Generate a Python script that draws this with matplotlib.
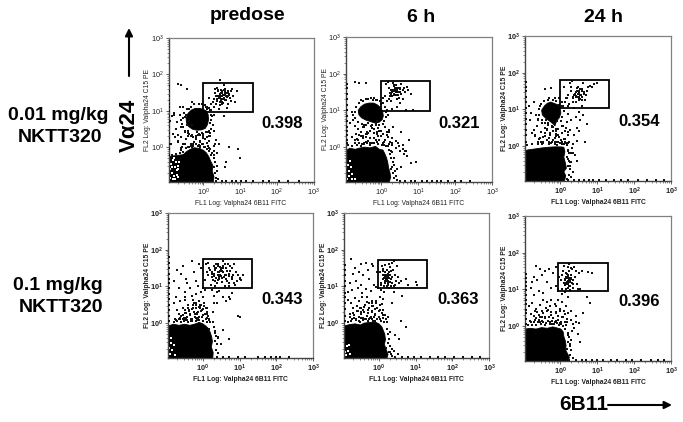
import numpy as np
import matplotlib
matplotlib.use("Agg")
import matplotlib.pyplot as plt
from matplotlib.ticker import LogLocator, NullFormatter

plt.rcParams['font.family'] = ['Liberation Sans', 'DejaVu Sans']
plt.rcParams['mathtext.fontset'] = 'custom'
plt.rcParams['mathtext.rm'] = 'Liberation Sans'
plt.rcParams['mathtext.bf'] = 'Liberation Sans:bold'

decade_ticks = [0, 1, 2, 3]
tick_labels = ['0', '1', '2', '3']
xlabel_text = 'FL1 Log: Valpha24 6B11 FITC'
ylabel_text = 'FL2 Log: Valpha24 C15 PE'
titles = ['predose', '6 h', '24 h']
percent = ['0.398', '0.321', '0.354', '0.343', '0.363', '0.396']

# --- panel 1 ---
p1_gate = [[0, 1.35, 1.35, 0, 0], [0.97, 0.97, 1.77, 1.77, 0.97]]
p1_main_x = [-.95, -.95, -.7, -.55, -.45, -.35, -.25, -.1, 0, .08, .15, .2, .26, .24, .29, .27]
p1_main_y = [-.95, -.25, -.22, -.2, -.11, -.05, -.01, -.03, -.08, -.15, -.26, -.38, -.5, -.65, -.8, -.95]
p1_blob_x = [-.12, -.02, .08, .13, .14, .11, .05, -.05, -.18, -.3, -.4, -.46, -.47, -.42, -.33, -.22]
p1_blob_y = [1.07, 1.05, 1.0, .9, .76, .62, .52, .48, .47, .5, .57, .67, .8, .93, 1.02, 1.07]
p1_pts_x = [.55, .48, .62, .51, .44, .58, .66, .40, .35, .70, .30, .75, .25, .52, .60, .46, .38, .68, .55, .42, .80, .92, .85, .20, .15, .33, .57, .63, .49, .72, .28, .44, .54, .36, .64, .77, .10, .18, .59, .47, .53, .41, .67, .31, .50, .61,
            -.7, -.6, -.45, -.3, -.55, -.8, -.65, -.85, -.5, -.72, -.38, -.6, -.75, -.82, -.42, -.28, -.2, -.1, 0, .1, -.05, -.15, .02, -.25, -.35, -.48, -.12, .08, .2, .28, .35, .32, .18, -.68, -.58, -.88, -.62, -.4, -.9, -.78, -.7, -.3, -.5, -.18, .22, .3, .38, .42, .55, .62, .7, 1.0, .45, .6, .95, -.65, -.38, -.8,
            -.2, -.45, .12, .16, -.55, -.33, .14, .18, .28, .1, .3]
p1_pts_y = [1.45, 1.5, 1.4, 1.55, 1.38, 1.3, 1.52, 1.58, 1.42, 1.47, 1.33, 1.55, 1.25, 1.25, 1.6, 1.15, 1.62, 1.2, 1.36, 1.05, 1.4, 1.55, 1.25, 1.18, 1.35, 1.5, 1.7, 1.08, 1.32, 1.35, 1.1, 1.47, 1.44, 1.28, 1.48, 1.6, 1.05, 1.02, 1.52, 1.56, 1.22, 1.4, 1.42, 1.6, 1.34, 1.5,
            1.75, 1.72, 1.6, 1.25, 1.1, .95, .88, .85, .82, .7, .72, .55, .5, .38, .45, .28, .3, .18, .25, .12, .08, .05, .02, .15, .1, .22, .38, 1.1, 1.02, .9, .2, .08, -.05, .18, .02, .1, -.02, .02, .72, .28, .35, .6, .42, .42, .5, .45, -.15, .1, .85, -.4, 0, -.3, 1.85, -.55, -.05, 1.1, 1.05, .9,
            .22, .62, .05, .18, .08, .3, .3, .4, -.1, -.05, .05]
p1_more_x = [.2, .22, .25, .18, .15, .2, .1, .05, -.05, -.12, -.25, -.35, -.45, -.52, -.55, -.58, -.55, -.5, -.42, -.3, -.2, -.1, 0, .08, .15, .24, .18, -.6, -.48, -.38, -.02, .06,
             -.85, -.75, -.65, -.55, -.48, -.42, -.35, -.28, -.2, -.12, -.05, .02, .1, .16, .22, .28, .33, .3, .36, .33, .38, .34, .4, -.6, -.3, -.1, .05, .14, .24, .3,
             .5, .56, .46, .6, .52, .43, .65, .54, .48, .58, .38, .7, .62, .34, .44, .56, .5, .66, .4, .74,
             -.7, -.6, -.5, -.42, -.2, -.15, -.08, 0, .1, -.28, -.18, -.05, .05, .12, -.32, .18, -.02, -.1]
p1_more_y = [.9, .75, .62, 1.02, 1.08, .5, 1.12, 1.15, 1.18, 1.2, 1.2, 1.12, 1.05, .95, .8, .65, .55, .45, .4, .35, .32, .35, .38, .42, .44, .85, .68, .75, .88, .38, .3, 1.1,
             -.2, -.18, -.15, -.12, -.02, .02, .05, .08, .1, .06, .08, .02, -.05, -.1, -.2, -.3, -.4, -.55, -.5, -.7, -.65, -.85, -.88, -.08, 0, .02, 0, -.02, -.15, -.2,
             1.4, 1.44, 1.45, 1.46, 1.5, 1.35, 1.38, 1.33, 1.3, 1.55, 1.34, 1.44, 1.3, 1.2, 1.25, 1.58, 1.2, 1.55, 1.55, 1.28,
             .15, .28, .08, .3, .25, .35, .15, .32, .28, .05, .42, .4, .22, .42, .35, .3, .1, .05]
p1_white_x = [-.9, -.85, -.8, -.78, -.72, -.68, -.88, -.82, -.75, -.7, -.9, -.84, -.76, -.66, -.8, -.72, -.86, -.68]
p1_white_y = [-.85, -.7, -.78, -.55, -.62, -.82, -.45, -.35, -.4, -.5, -.6, -.88, -.88, -.4, -.3, -.75, -.55, -.58]
p1_left_y = [-.2, -.05, .1, .25, .4, .55, .7, .85, 1.0, 1.1, 1.2, 1.3, 1.42, 1.55, 1.68]
p1_bottom_x = [.35, .5, .62, .78, .9, 1.02, 1.15, 1.35, 1.62, 1.8, 2.05, 2.3, 2.6]

# --- panel 2 ---
p2_gate = [[0, 1.33, 1.33, 0, 0], [.98, .98, 1.8, 1.8, .98]]
p2_main_x = [-.95, -.95, -.85, -.7, -.6, -.45, -.3, -.15, -.05, .05, .1, .15, .18, .2, .24, .26, .22]
p2_main_y = [-.95, -.1, -.03, -.06, -.03, 0, -.02, .02, -.06, -.08, -.18, -.3, -.42, -.55, -.7, -.82, -.95]
p2_blob_x = [-.33, -.2, -.1, -.02, .04, .06, .03, -.05, -.18, -.3, -.42, -.53, -.6, -.62, -.55, -.45]
p2_blob_y = [1.2, 1.2, 1.15, 1.08, .98, .85, .75, .68, .66, .7, .74, .8, .88, 1.0, 1.1, 1.17]
p2_pts_x = [.38, .45, .3, .52, .4, .25, .6, .35, .48, .2, .55, .65, .15, .7, .28, .42, .33, .5, .1, .58, .72, .8, .38, .22, .46, .12, .3, .62, .36, .05, .68, .18, .25, .44, .54, .4, .85,
            -.7, -.6, -.4, -.28, -.78, -.85, -.72, -.62, -.55, -.48, -.38, -.3, -.2, -.12, 0, .1, .2, -.8, -.65, -.5, -.4, -.3, -.18, -.05, .08, .18, .3, -.55, -.45, -.35, -.25, -.1, .05, .12, .3, .4, .5, .62, .7, .82, .95, .65, .45, .75, .6, .35, .55, .42, .28, -.75, -.6, -.15, -.68, .22, -.2, -.35, -.5, -.62, -.05, .15, .32, .48, .58, .3, .4, .68, .55, -.3, -.1, .05, -.25, -.42, .02, -.45, -.15]
p2_pts_y = [1.53, 1.6, 1.5, 1.62, 1.42, 1.38, 1.55, 1.7, 1.35, 1.6, 1.45, 1.5, 1.25, 1.65, 1.25, 1.1, 1.75, 1.2, 1.4, 1.3, 1.55, 1.45, 1.58, 1.3, 1.5, 1.72, 1.05, 1.6, 1.45, 1.35, 1.0, 1.78, 1.48, 1.3, 1.72, 1.52, 1.0,
            1.78, 1.75, 1.75, 1.35, .95, .65, .58, .5, .42, .55, .35, .45, .5, .4, .3, .55, .42, .28, .22, .25, .15, .1, .12, .2, .15, .28, .25, .02, .08, .65, .6, .72, .05, .02, .1, -.02, -.1, -.2, -.25, -.42, -.4, -.1, .1, .2, .05, -.3, -.55, -.6, -.6, .75, .33, .62, .35, .48, .25, .38, .3, .2, .45, .32, .55, .02, -.05, .08, .18, -.1, .4, .25, .35, .1, .12, .28, .05, .6, 1.28]
p2_more_x = [.1, .14, .12, .08, .04, -.02, -.1, -.22, -.35, -.48, -.6, -.68, -.72, -.7, -.62, -.52, -.4, -.28, -.15, -.05, .05, .15, .18, -.55, -.42, -.18, -.75, 0,
             -.9, -.78, -.65, -.52, -.38, -.22, -.08, .02, .12, .2, .25, .28, .32, .3, .35, .32, .38, .34, .4, .42, -.7, -.45, -.3, -.12, .08, .18, .26, .3,
             .36, .4, .32, .44, .28, .38, .5, .34, .42, .26, .46, .3, .36, .52, .24, .4,
             -.7, -.55, -.42, -.3, -.2, -.08, .05, .15, -.6, -.35, -.15, .1, .25, -.45, -.25, 0, .2, .3, -.08, -.38]
p2_more_y = [1.1, .95, .82, .7, 1.2, 1.25, 1.28, 1.28, 1.3, 1.25, 1.2, 1.1, .95, .8, .68, .62, .6, .58, .6, .6, .62, 1.02, .88, 1.28, 1.32, 1.33, .88, 1.18,
             .05, .04, .06, .08, .1, .12, .08, .05, .02, -.08, -.18, -.3, -.4, -.55, -.5, -.7, -.65, -.85, -.78, -.9, .1, .12, .05, .14, .06, .02, -.1, -.12,
             1.52, 1.5, 1.55, 1.56, 1.45, 1.6, 1.5, 1.42, 1.62, 1.55, 1.42, 1.4, 1.66, 1.58, 1.48, 1.7,
             .2, .3, .35, .25, .38, .3, .35, .42, .12, .18, .2, .2, .15, .55, .52, .45, .08, .05, .52, .4]
p2_white_x = [-.92, -.86, -.8, -.88, -.78, -.9, -.82, -.72, -.84]
p2_white_y = [-.88, -.8, -.86, -.65, -.72, -.5, -.55, -.88, -.38]
p2_left_y = [.1, .2, .33, .45, .55, .7, .85, 1.0, 1.15, 1.3, 1.45, 1.6, 1.72]
p2_bottom_x = [.5, .65, .8, .92, 1.1, 1.25, 1.38, 1.5, 1.62, 1.8, 2.0, 2.15, 2.4]

# --- panel 3 ---
p3_gate = [[0, 1.33, 1.33, 0, 0], [1.03, 1.03, 1.8, 1.8, 1.03]]
p3_main_x = [-.95, -.95, -.85, -.7, -.5, -.3, -.15, 0, .1, .13, .1, .14, .17, .1, .15, .12]
p3_main_y = [-.95, -.12, -.1, -.08, -.05, -.03, -.02, -.02, -.03, -.15, -.3, -.45, -.6, -.7, -.8, -.95]
p3_blob_x = [-.25, -.15, -.05, 0, .02, -.02, -.08, -.12, -.14, -.18, -.28, -.38, -.48, -.5, -.42, -.34]
p3_blob_y = [1.2, 1.16, 1.12, 1.02, .9, .78, .7, .62, .55, .6, .68, .75, .85, .98, 1.1, 1.17]
p3_pts_x = [.5, .45, .55, .4, .6, .35, .65, .48, .52, .3, .7, .25, .42, .58, .75, .2, .15, .8, .38, .62, .85, .1, .05, .28, .33, .68, .44, .54, .92, 1.0, .12, .22, .46, .5, .72, .18, .3, .36,
            -.25, -.4, -.55, -.72, -.85, -.78, -.65, -.6, -.5, -.42, -.35, -.28, -.2, -.1, -.02, .08, .18, .3, .42, .55, .62, .72, .45, .5, .38, .28, .2, .12, -.75, -.68, -.58, -.45, -.35, -.25, -.15, -.05, .1, .25, .35, .45, .68, -.62, -.52, -.42, -.3, -.2, -.1, .05, .15, .22, .3, .18, .25, .32, .4, .28, .35, .45, -.48, -.32, -.18, -.08, .02, -.38, -.7, -.82, .2, .52, .58]
p3_pts_y = [1.43, 1.5, 1.38, 1.42, 1.55, 1.3, 1.48, 1.62, 1.25, 1.5, 1.4, 1.15, 1.2, 1.1, 1.6, 1.4, 1.32, 1.65, 1.05, 1.72, 1.6, 1.6, 1.08, 1.72, 1.78, 1.25, 1.35, 1.28, 1.7, 1.72, 1.2, 1.08, 1.58, 1.35, 1.5, 1.32, 1.62, 1.2,
            1.57, 1.55, 1.1, 1.2, 1.1, .9, .85, .75, .62, .5, .45, .35, .4, .28, .25, .55, .65, .72, .78, .72, .85, .6, .5, .4, .3, .45, .3, .2, .35, .28, .2, .1, .18, .08, .05, .12, .2, .1, .05, .15, .1, .55, .38, .28, .22, .18, .32, .05, .08, -.1, -.2, -.3, -.4, -.05, -.25, -.55, -.7, -.4, .05, .62, .52, .68, .18, .7, .45, .7, .88, .92, 1.25]
p3_more_x = [.08, .1, .06, .02, -.02, -.1, -.2, -.32, -.44, -.52, -.58, -.58, -.5, -.42, -.32, -.22, -.12, -.06, .04, .05, -.02, -.6, -.3, -.15,
             -.9, -.75, -.6, -.45, -.3, -.15, 0, .1, .18, .2, .24, .2, .26, .22, .28, .24, .3, .18, .22, .35, .05, -.22, -.52, -.08, .14, .3,
             .48, .52, .44, .56, .5, .42, .6, .46, .54, .38, .58, .5, .64, .34, .47, .53,
             -.68, -.55, -.42, -.3, -.15, -.05, .05, -.35, -.22, -.12, .02, .12, -.6, -.45, -.28, -.08, .16, .22]
p3_more_y = [1.1, .95, .8, .68, 1.12, 1.22, 1.25, 1.27, 1.22, 1.15, 1.02, .85, .72, .62, .58, .52, .48, .48, .55, 1.2, 1.3, .7, 1.32, 1.3,
             .04, .06, .05, .08, .06, .1, .08, .06, .02, -.12, -.2, -.35, -.42, -.55, -.62, -.78, -.85, -.9, .08, -.2, .12, .12, .1, .02, .12, -.42,
             1.42, 1.46, 1.47, 1.4, 1.5, 1.36, 1.5, 1.35, 1.55, 1.4, 1.33, 1.32, 1.42, 1.35, 1.58, 1.28,
             .3, .22, .35, .12, .22, .3, .35, .48, .55, .42, .18, .42, .1, .25, .3, .12, .5, .38]
p3_left_y = [.1, .3, .45, .6, .75, .9, 1.05, 1.2, 1.35, 1.5, 1.62, 1.75]
p3_bottom_x = [.22, .38, .52, .65, .78, .9, 1.05, 1.25, 1.45, 1.65, 1.85, 2.1, 2.35, 2.6, 2.8]

# --- panel 4 ---
p4_gate = [[0, 1.34, 1.34, 0, 0], [.95, .95, 1.74, 1.74, .95]]
p4_main_x = [-.95, -.95, -.8, -.65, -.5, -.35, -.2, -.1, 0, .08, .15, .2, .24, .26, .23, .28, .27]
p4_main_y = [-.95, -.08, -.03, -.06, -.03, -.06, -.02, .02, -.02, -.08, -.15, -.25, -.38, -.5, -.65, -.8, -.95]
p4_pts_x = [.2, .3, .4, .5, .6, .7, .8, .9, 1.0, 1.1, .15, .25, .35, .45, .55, .65, .75, .85, .95, 1.05, .1, .22, .32, .42, .52, .62, .72, .82, .92, 1.02, .08, .18, .28, .38, .48, .58, .68, .78, .88, .05, .14, .24, .34, .44, .54, .64, .74, .84, .36, .46, .56, .3, .4, .5, .6, .42, .52, .33, .47, .62, .27, .7, .8, .55,
            -.7, -.55, -.3, -.1, -.8, -.6, -.45, -.25, -.05, -.65, -.42, -.18, -.72, -.5, -.35, -.12, -.78, -.62, -.48, -.3, -.2, -.05, .05, -.7, -.55, -.4, -.25, -.1, 0, -.6, -.5, -.38, -.28, -.18, -.08, .02, -.55, -.45, -.35, -.22, -.12, -.02, .08, -.42, -.3, -.2, -.1, 0, .1, -.72, -.62, -.52, -.32, -.15, .1, .18, .28, .38, .3, .45, .55, .62, .75, .8, .95, 1.0, .18, .32, .55, .42, .7, .5, .38, .25, .3, .7, -.38, -.08, .12, -.28, -.16, -.5, -.66, -.06, -.24]
p4_pts_y = [1.45, 1.55, 1.3, 1.5, 1.6, 1.35, 1.25, 1.4, 1.2, 1.3, 1.65, 1.25, 1.6, 1.2, 1.38, 1.15, 1.42, 1.08, 1.3, 1.18, 1.4, 1.05, 1.45, 1.55, 1.12, 1.5, 1.1, 1.32, 1.15, 1.22, 1.6, 1.5, 1.35, 1.1, 1.42, 1.25, 1.62, 1.5, 1.05, 1.18, 1.3, 1.4, 1.02, 1.4, 1.68, 1.32, 1.55, 1.6, 1.22, 1.32, 1.5, 1.28, 1.4, 1.28, 1.02, 1.18, 1.42, 1.5, 1.52, 1.2, 1.18, 1.02, 1.2, 1.7,
            1.45, 1.55, 1.7, 1.62, 1.15, 1.35, 1.2, 1.4, 1.5, .95, 1.08, 1.15, .7, .85, .95, 1.0, .55, .6, .7, .75, .8, .85, .9, .35, .42, .5, .55, .6, .7, .2, .28, .35, .42, .5, .4, .55, .1, .15, .22, .25, .3, .35, .4, .08, .12, .15, .18, .22, .28, .08, .1, .05, .05, .08, .15, .08, .3, .55, .55, .88, .72, .6, .65, .82, .2, .18, -.15, -.28, -.18, -.38, -.42, -.58, .85, .9, .75, .7, .32, .45, .25, .62, .28, .62, .12, .5, .3]
p4_more_x = [-.8, -.7, -.6, -.5, -.4, -.3, -.2, -.1, 0, .1, .2, -.75, -.62, -.52, -.42, -.32, -.22, -.12, -.02, .08, .18, .28, -.65, -.55, -.45, -.35, -.25, -.15, -.05, .05, .15, -.5, -.4, -.3, -.2, -.1, 0, .1, -.28, -.18, -.08, .02, .12, .3, .34, .36, .32, .38, .35, .42, .4,
             .4, .5, .3, .6, .45, .55, .35, .65, .25, .7, .42, .52, .62, .32]
p4_more_y = [.02, .05, .03, .08, .04, .06, .05, .08, .06, .04, .03, .12, .15, .14, .18, .12, .16, .14, .18, .12, .1, .02, .25, .22, .28, .25, .3, .26, .32, .24, .2, .35, .4, .38, .42, .45, .38, .3, .5, .55, .5, .48, .42, -.1, -.22, -.35, -.48, -.58, -.72, -.82, -.4,
             1.4, 1.45, 1.35, 1.3, 1.25, 1.55, 1.5, 1.42, 1.35, 1.28, 1.6, 1.22, 1.5, 1.15]
p4_white_x = [-.9, -.84, -.76, -.88, -.8, -.92, -.86]
p4_white_y = [-.85, -.72, -.88, -.55, -.6, -.68, -.4]
p4_left_y = [.05, .2, .35, .5, .65, .8, .95, 1.1, 1.2, 1.35, 1.5, 1.65, 1.8]
p4_bottom_x = [.38, .55, .7, .95, 1.15, 1.5, 1.7, 1.85, 1.98, 2.1, 2.35]

# --- panel 5 ---
p5_gate = [[-.03, 1.32, 1.32, -.03, -.03], [.95, .95, 1.72, 1.72, .95]]
p5_main_x = [-.95, -.95, -.8, -.65, -.5, -.4, -.25, -.1, 0, .08, .12, .16, .18, .15, .2, .25, .22]
p5_main_y = [-.95, -.08, -.04, -.02, -.05, 0, .02, .03, -.02, -.1, -.2, -.3, -.45, -.58, -.72, -.85, -.95]
p5_pts_x = [.2, .25, .15, .3, .1, .35, .22, .05, .4, .18, .28, .12, .32, .45, .08, .24, .36, .16, .5, .02, .42, .26, .2, .14, .34, .55, .3, .38, .48, .06, .18, .22, .28, .6, .8, 1.0, 1.05, .75, .52, .44, .35, .1,
            -.75, -.65, -.5, -.35, -.2, -.7, -.55, -.42, -.3, -.15, -.05, -.8, -.62, -.48, -.28, -.12, -.85, -.72, -.58, -.45, -.35, -.22, -.08, .05, .15, -.85, -.75, -.65, -.55, -.45, -.32, -.2, -.08, .02, .12, -.7, -.6, -.48, -.38, -.28, -.18, -.05, .08, -.78, -.68, -.58, -.5, -.42, -.3, -.2, -.1, .02, .12, .25, .35, .3, .45, .55, .62, .25, .2, .3, .42, .52, .35, .6, .75, .22, .35, .4, .28, -.4, -.25, -.12, .02, -.62, -.5, -.35, -.15, -.72, -.55, -.42, -.28, -.1]
p5_pts_y = [1.25, 1.15, 1.32, 1.3, 1.2, 1.1, 1.45, 1.05, 1.0, 1.58, 1.6, 1.48, 1.42, 1.3, 1.55, 1.05, 1.25, 1.15, 1.55, 1.38, 1.68, 1.35, 1.2, 1.02, 1.0, 1.1, 1.52, 1.45, 1.15, 1.1, 1.28, .98, 1.22, 1.15, 1.05, 1.12, 1.05, 1.2, 1.25, 1.05, 1.65, 1.42,
            1.75, 1.5, 1.6, 1.65, 1.62, 1.35, 1.4, 1.3, 1.45, 1.55, 1.4, 1.1, 1.15, 1.05, 1.2, 1.05, .85, .9, .95, .82, .92, .88, .98, .9, .85, .62, .55, .68, .6, .7, .72, .6, .55, .7, .65, .42, .48, .4, .5, .55, .48, .42, .52, .25, .22, .32, .3, .35, .28, .32, .25, .35, .22, .18, .55, -.25, -.32, -.42, .75, -.55, -.68, -.8, -.75, -.85, -.9, .05, -.1, 1.0, -.7, .85, .95, .12, .15, .18, .1, .12, .15, .12, .05, .1, .05, .08, .1, .05]
p5_more_x = [-.85, -.75, -.62, -.52, -.4, -.3, -.18, -.05, .06, .14, .22, -.8, -.68, -.55, -.44, -.33, -.22, -.1, 0, .1, .2, -.7, -.6, -.5, -.4, -.3, -.2, -.1, 0, .08, .18, -.52, -.4, -.28, -.15, -.04, .1, -.32, -.2, -.08, .04, .22, .26, .28, .25, .3, .28, .34,
             .18, .22, .26, .14, .3, .2, .24, .16, .28, .12, .34, .22, .18, .26]
p5_more_y = [.02, .06, .08, .04, .1, .07, .12, .1, .06, .04, .02, .16, .14, .18, .15, .2, .16, .22, .18, .15, .1, .28, .32, .26, .3, .35, .3, .38, .33, .28, .22, .42, .45, .4, .48, .42, .35, .58, .55, .6, .5, -.15, -.3, -.42, -.55, -.62, -.78, -.85,
             1.25, 1.18, 1.22, 1.22, 1.12, 1.32, 1.28, 1.1, 1.38, 1.32, 1.2, 1.15, 1.4, 1.08]
p5_white_x = [-.9, -.84, -.78, -.88, -.82, -.92]
p5_white_y = [-.88, -.75, -.85, -.62, -.6, -.78]
p5_left_y = [.05, .2, .38, .55, .7, .82, 1.0, 1.15, 1.3, 1.45, 1.58]
p5_bottom_x = [.45, .62, .78, .95, 1.15, 1.4, 1.6, 1.8, 2.05, 2.3, 2.55, 2.75]

# --- panel 6 ---
p6_gate = [[-.05, 1.3, 1.3, -.05, -.05], [.95, .95, 1.73, 1.73, .95]]
p6_main_x = [-.95, -.95, -.8, -.65, -.5, -.35, -.2, -.08, .02, .08, .1, .14, .16, .15, .2, .25, .22]
p6_main_y = [-.95, -.08, -.06, -.08, -.04, -.06, -.02, -.05, -.08, -.15, -.28, -.4, -.52, -.65, -.75, -.85, -.95]
p6_pts_x = [.22, .25, .18, .3, .2, .15, .28, .35, .1, .24, .4, .05, .32, .16, .26, .12, .2, .45, .08, .36, .28, .22, .5, .14, .3, .18, .55, .38, .02, .42, .25, .6, .75, .85, .3, .35, .48, .15, .1, .05,
            -.65, -.55, -.7, -.5, -.42, -.3, -.2, -.1, -.02, -.62, -.75, -.8, -.72, -.58, -.45, -.35, -.25, -.12, -.05, .05, .12, .2, .28, -.85, -.75, -.65, -.55, -.45, -.35, -.25, -.15, -.05, .05, .15, -.78, -.68, -.58, -.45, -.32, -.25, -.12, 0, .1, .2, .3, .42, -.8, -.68, -.55, -.42, -.32, -.18, -.05, .08, .18, .3, .42, .32, .22, .3, .38, .48, .55, .72, .8, .62, .5, .28, .18, .35, -.38, -.48, -.6, -.28, -.22, -.15, -.08, .02, -.72, -.62, -.5, -.38, -.28, -.1, 0, .15]
p6_pts_y = [1.23, 1.3, 1.15, 1.4, 1.05, 1.35, 1.1, 1.25, 1.18, 1.5, 1.35, 1.02, 1.55, 1.45, .98, 1.28, 1.62, 1.15, 1.5, 1.05, 1.2, 1.35, 1.45, 1.12, 1.3, 1.2, 1.0, 1.6, 1.25, 1.5, 1.68, 1.5, 1.48, 1.45, 1.58, 1.15, 1.0, 1.02, 1.65, 1.4,
            1.65, 1.55, 1.35, 1.4, 1.5, 1.55, 1.45, 1.6, 1.35, 1.25, 1.2, 1.05, .85, .95, .9, 1.2, 1.05, 1.1, 1.0, .88, .92, .8, .98, .55, .62, .48, .58, .7, .65, .72, .6, .72, .65, .55, .32, .42, .3, .35, .45, .3, .38, .48, .42, .35, .4, .28, .1, .18, .12, .22, .15, .22, .18, .25, .12, .18, .1, -.12, -.25, -.38, -.05, -.22, -.42, .78, .62, .35, .08, -.48, -.62, .05, .08, .14, .1, .1, .05, .12, .08, .05, .28, .38, .25, .5, .55, .55, .08, .02]
p6_more_x = [-.88, -.76, -.64, -.52, -.4, -.28, -.16, -.04, .08, .14, .2, .24, .22, .26, .3, .28, .34, -.82, -.7, -.58, -.46, -.34, -.22, -.1, .02, .14, -.66, -.54, -.42, -.3, -.18, -.06, .06, .18, -.48, -.36, -.24, -.12, 0, .12,
             .2, .24, .18, .28, .16, .22, .26, .14, .3, .2, .12, .24, .18, .32]
p6_more_y = [.02, .04, .03, .05, .03, .06, .05, .02, .01, -.08, -.18, -.3, -.42, -.55, -.65, -.78, -.88, .14, .12, .16, .12, .15, .13, .14, .12, .1, .22, .25, .24, .26, .22, .28, .24, .2, .4, .42, .38, .35, .42, .32,
             1.2, 1.26, 1.3, 1.22, 1.18, 1.14, 1.32, 1.25, 1.28, 1.38, 1.12, 1.08, 1.42, 1.18]
p6_left_y = [.05, .2, .35, .45, .6, .7, .85, .98, 1.1, 1.2, 1.3, 1.42]
p6_bottom_x = [.25, .42, .58, .7, .85, 1.0, 1.15, 1.38, 1.55, 1.78, 1.95, 2.2, 2.45, 2.65, 2.82]

gates = [p1_gate, p2_gate, p3_gate, p4_gate, p5_gate, p6_gate]
mains = [(p1_main_x, p1_main_y), (p2_main_x, p2_main_y), (p3_main_x, p3_main_y),
         (p4_main_x, p4_main_y), (p5_main_x, p5_main_y), (p6_main_x, p6_main_y)]
blobs = [(p1_blob_x, p1_blob_y), (p2_blob_x, p2_blob_y), (p3_blob_x, p3_blob_y), None, None, None]
points = [(p1_pts_x + p1_more_x, p1_pts_y + p1_more_y), (p2_pts_x + p2_more_x, p2_pts_y + p2_more_y),
          (p3_pts_x + p3_more_x, p3_pts_y + p3_more_y), (p4_pts_x + p4_more_x, p4_pts_y + p4_more_y),
          (p5_pts_x + p5_more_x, p5_pts_y + p5_more_y), (p6_pts_x + p6_more_x, p6_pts_y + p6_more_y)]
whites = [(p1_white_x, p1_white_y), (p2_white_x, p2_white_y), None,
          (p4_white_x, p4_white_y), (p5_white_x, p5_white_y), None]
lefts = [p1_left_y, p2_left_y, p3_left_y, p4_left_y, p5_left_y, p6_left_y]
bottoms = [p1_bottom_x, p2_bottom_x, p3_bottom_x, p4_bottom_x, p5_bottom_x, p6_bottom_x]

W, H = 683, 422
fig = plt.figure(figsize=(W / 100, H / 100), dpi=100)
boxes = [(168.5, 313.5, 38, 182), (346, 492, 37, 182), (525, 671, 36, 181),
         (168, 313, 213, 358), (344, 489, 213, 358), (525, 671, 216, 361)]
value_pos = [(282, 124), (459, 123), (639, 122), (282, 299), (458, 299), (639, 302)]
bold_flags = [False, False, True, True, True, True]
XMIN = 10 ** -0.95


def dec(values):
    return 10.0 ** np.asarray(values, dtype=float)


for i, (l, r, t, b) in enumerate(boxes):
    ax = fig.add_axes([l / W, 1 - b / H, (r - l) / W, (b - t) / H])
    ax.set_xscale('log')
    ax.set_yscale('log')
    ax.set_xlim(XMIN, 1000)
    ax.set_ylim(XMIN, 1000)
    bold = bold_flags[i]
    wt = 'bold' if bold else 'normal'
    fmt = r'$\mathbf{10^{%s}}$' if bold else r'$\mathrm{10^{%s}}$'
    labels = [fmt % s for s in tick_labels]
    ticks = dec(decade_ticks)
    ax.set_xticks(ticks, labels)
    ax.set_yticks(ticks, labels)
    for axis in (ax.xaxis, ax.yaxis):
        axis.set_minor_locator(LogLocator(base=10, subs=range(2, 10), numticks=12))
        axis.set_minor_formatter(NullFormatter())
    ax.tick_params(which='major', length=2.4, width=0.5, labelsize=5.3, pad=1.2, color='#222222', labelcolor='#222222')
    ax.tick_params(which='minor', length=1.3, width=0.4, color='#333333')
    ax.set_xlabel(xlabel_text, fontsize=4.9, weight=wt, labelpad=1.0, color='#222222')
    ax.set_ylabel(ylabel_text, fontsize=4.9, weight=wt, labelpad=-0.6, color='#222222')
    for side in ('top', 'right'):
        ax.spines[side].set_color('#808080')
        ax.spines[side].set_linewidth(0.9)
    for side in ('left', 'bottom'):
        ax.spines[side].set_color('#444444')
        ax.spines[side].set_linewidth(1.0)

    mx, my = mains[i]
    ax.fill(dec(mx), dec(my), color='black', lw=0.6, zorder=2)
    if blobs[i] is not None:
        bx, by = blobs[i]
        ax.fill(dec(bx), dec(by), color='black', lw=0.6, zorder=2)
    if whites[i] is not None:
        wx, wy = whites[i]
        ax.scatter(dec(wx), dec(wy), s=0.7, c='white', marker='s', linewidths=0, zorder=2.5)
    px, py = points[i]
    ax.scatter(dec(px), dec(py), s=0.75, c='#111111', marker='s', linewidths=0, zorder=3)
    ly = lefts[i]
    ax.scatter(np.full(len(ly), 10 ** -0.93), dec(ly), s=1.2, c='#111111', marker='s', linewidths=0, zorder=3)
    bt = bottoms[i]
    ax.scatter(dec(bt), np.full(len(bt), 10 ** -0.93), s=1.2, c='#111111', marker='s', linewidths=0, zorder=3)
    gx, gy = gates[i]
    ax.plot(dec(gx), dec(gy), color='black', lw=1.3, zorder=4, solid_joinstyle='miter')
    vx, vy = value_pos[i]
    fig.text(vx / W, 1 - vy / H, percent[i], ha='center', va='center', fontsize=12, weight='bold')


def txt(x, y, s, size, **kw):
    fig.text(x / W, 1 - y / H, s, ha=kw.pop('ha', 'center'), va='center', fontsize=size, weight='bold', **kw)


for (x, y), s in zip([(248, 15), (421, 17), (603, 18)], titles):
    txt(x, y, s, 14)

txt(58, 115, '0.01 mg/kg', 14)
txt(60, 138, 'NKTT320', 14)
txt(58, 285, '0.1 mg/kg', 14)
txt(61, 308, 'NKTT320', 14)
txt(129, 125, 'V\u03b124', 16, rotation=90)
txt(584, 405, '6B11', 15)

arrow_ax = fig.add_axes([0, 0, 1, 1], facecolor='none')
arrow_ax.set_xlim(0, W)
arrow_ax.set_ylim(H, 0)
arrow_ax.axis('off')
arrow_ax.annotate('', xy=(129, 28), xytext=(129, 76),
                  arrowprops=dict(arrowstyle='-|>', color='black', lw=1.5, mutation_scale=11, shrinkA=0, shrinkB=0))
arrow_ax.annotate('', xy=(672, 405), xytext=(608, 405),
                  arrowprops=dict(arrowstyle='-|>', color='black', lw=1.5, mutation_scale=11, shrinkA=0, shrinkB=0))

fig.savefig('out.png', dpi=100)
